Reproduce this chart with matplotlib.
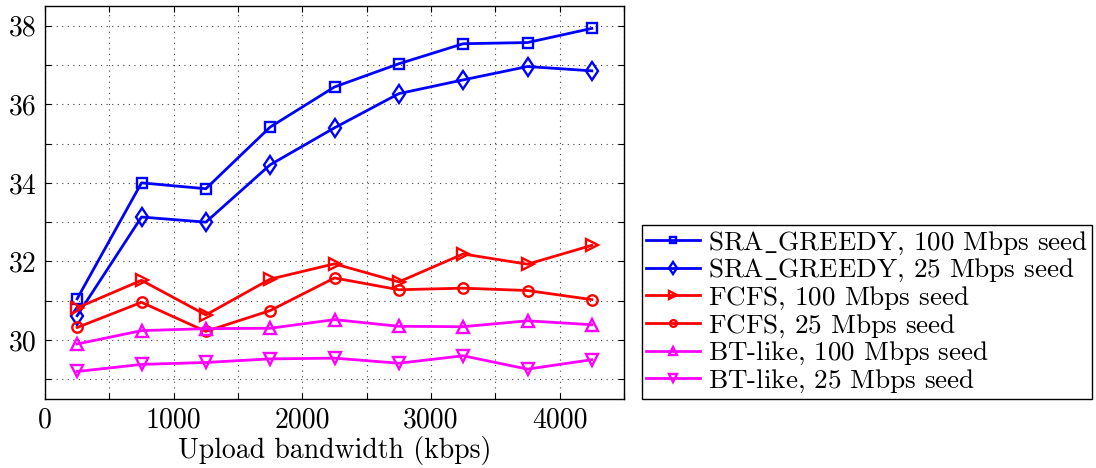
import matplotlib
matplotlib.use("Agg")
import matplotlib.pyplot as plt
from matplotlib.ticker import FixedLocator, FuncFormatter

plt.rcParams['font.family'] = ['cmr10', 'DejaVu Serif']
plt.rcParams['mathtext.fontset'] = 'cm'
plt.rcParams['axes.formatter.use_mathtext'] = True

x = [250, 750, 1250, 1750, 2250, 2750, 3250, 3750, 4250]
sra_100 = [31.05, 34.00, 33.85, 35.42, 36.44, 37.03, 37.54, 37.57, 37.93]
sra_25 = [30.62, 33.13, 33.00, 34.46, 35.40, 36.27, 36.62, 36.96, 36.85]
fcfs_100 = [30.82, 31.52, 30.64, 31.55, 31.94, 31.48, 32.19, 31.93, 32.41]
fcfs_25 = [30.32, 30.96, 30.22, 30.75, 31.58, 31.28, 31.32, 31.26, 31.03]
bt_100 = [29.90, 30.24, 30.29, 30.30, 30.52, 30.35, 30.34, 30.49, 30.39]
bt_25 = [29.20, 29.38, 29.43, 29.52, 29.54, 29.41, 29.60, 29.26, 29.50]

labels = [r"SRA$\_$GREEDY, 100 Mbps seed", r"SRA$\_$GREEDY, 25 Mbps seed",
          r"FCFS, 100 Mbps seed${}$", r"FCFS, 25 Mbps seed${}$",
          r"BT-like, 100 Mbps seed${}$", r"BT-like, 25 Mbps seed${}$"]
series = [sra_100, sra_25, fcfs_100, fcfs_25, bt_100, bt_25]
colors = ['#0000ff', '#0000ff', '#ff0000', '#ff0000', '#ff00ff', '#ff00ff']
markers = ['s', 'd', '>', 'o', '^', 'v']
msizes = [7, 9.5, 8.5, 7.5, 8.5, 8.5]

fig = plt.figure(figsize=(10.96, 4.68), dpi=100)
ax = fig.add_axes([45/1096, 1-399/468, (624-45)/1096, (399-6)/468])

for y, lab, c, m, ms in zip(series, labels, colors, markers, msizes):
    ax.plot(x, y, color=c, marker=m, markersize=ms, markerfacecolor='none',
            markeredgecolor=c, markeredgewidth=1.7, linewidth=2.0, label=lab)

ax.set_xlim(0, 4500)
ax.set_ylim(28.5, 38.5)
ax.xaxis.set_major_locator(FixedLocator(list(range(0, 4501, 500))))
ax.yaxis.set_major_locator(FixedLocator(list(range(29, 39))))
ax.xaxis.set_major_formatter(FuncFormatter(lambda v, p: f"{int(v)}" if int(v) % 1000 == 0 else ""))
ax.yaxis.set_major_formatter(FuncFormatter(lambda v, p: f"{int(v)}" if int(v) % 2 == 0 else ""))
ax.tick_params(direction='in', top=True, right=True, labelsize=20, length=4, width=0.8, pad=6)
ax.grid(True, linestyle=(0, (1, 4)), color='#444444', linewidth=0.8)
for s in ax.spines.values():
    s.set_linewidth(1.0)
ax.set_xlabel("Upload bandwidth (kbps)", fontsize=20, labelpad=2)

leg = ax.legend(loc='lower left', bbox_to_anchor=(641.7/1096, 1-399/468),
                bbox_transform=fig.transFigure, fontsize=19.5, frameon=True,
                fancybox=False, edgecolor='black', framealpha=1,
                handlelength=2.0, handletextpad=0.3, labelspacing=0.01,
                borderpad=0.15, borderaxespad=0, markerscale=0.65)
leg.get_frame().set_linewidth(1.0)

fig.savefig("out.png", dpi=100)
